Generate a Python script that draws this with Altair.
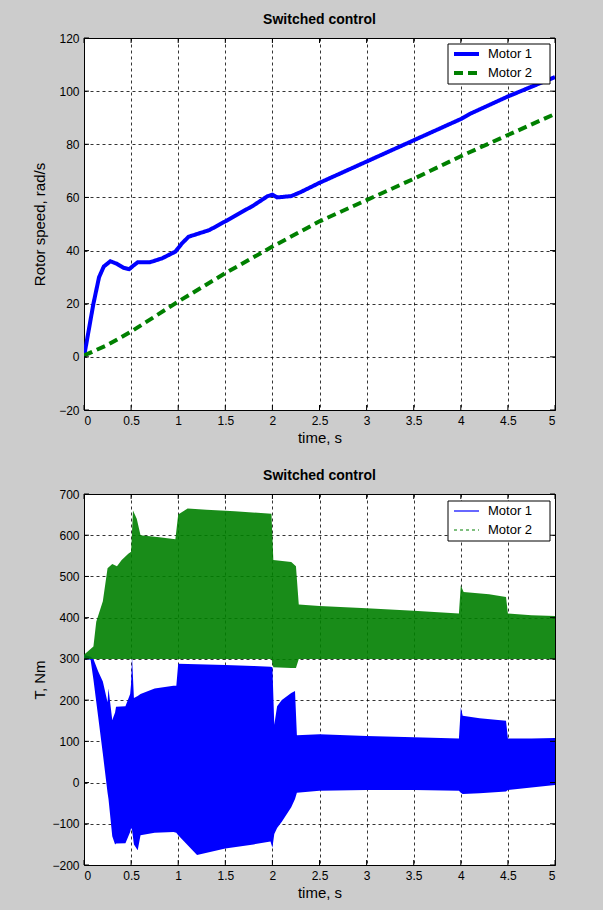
import altair as alt
import pandas as pd

FONT = "Liberation Sans"
BLUE = "#0000FF"
GREEN = "#008000"

# ---- Rotor speed, rad/s -------------------------------------------------
speed_t1 = [0, 0.05, 0.1, 0.16, 0.21, 0.28, 0.35, 0.42, 0.48, 0.53, 0.57, 0.7,
            0.83, 0.97, 1.04, 1.11, 1.33, 1.5, 1.8, 1.95, 2.0, 2.05, 2.2, 2.3,
            2.5, 3.0, 3.5, 4.0, 4.1, 4.5, 5.0]
speed_m1 = [0, 10, 20, 30, 34, 36, 35, 33.5, 33, 34.5, 35.6, 35.6,
            37.1, 39.6, 42.7, 45.2, 47.7, 51, 57, 60.5, 61, 60, 60.5, 62,
            65.5, 73.5, 81.5, 89.5, 91.5, 98, 105.3]
speed_t2 = [0, 0.25, 0.5, 1.0, 1.5, 2.0, 2.5, 3.0, 3.5, 4.0, 4.5, 5.0]
speed_m2 = [0.5, 4.5, 9.5, 20.8, 31.5, 41.5, 51, 59, 67, 75.5, 83.5, 91.4]

# ---- Torque envelopes, Nm (lower / upper bound of the ripple) ------------
tq_t1 = [0, 0.07, 0.1, 0.15, 0.2, 0.25, 0.26, 0.3, 0.33, 0.34, 0.44, 0.49,
         0.5, 0.51, 0.53, 0.57, 0.6, 0.75, 0.95, 0.98, 1.0, 1.2, 1.5, 1.8,
         1.98, 2.0, 2.02, 2.05, 2.1, 2.2, 2.24, 2.26, 2.5, 3.0, 3.5, 3.98,
         4.0, 4.02, 4.2, 4.48, 4.5, 4.75, 5.0]
tq_m1_lo = [300, 298, 250, 160, 70, -25, -40, -130, -150, -148, -147, -120,
            -110, -115, -150, -164, -128, -122, -120, -122, -128, -176, -160, -150,
            -143, -158, -125, -110, -95, -60, -40, -25, -20, -18, -18, -20,
            -25, -28, -26, -22, -18, -12, -6]
tq_m1_hi = [310, 305, 300, 270, 245, 195, 228, 152, 170, 184, 185, 215,
            240, 305, 205, 210, 215, 228, 235, 235, 288, 287, 285, 283,
            281, 280, 140, 185, 200, 217, 222, 115, 117, 113, 110, 107,
            182, 162, 156, 150, 107, 107, 108]

tq_t2 = [0, 0.1, 0.13, 0.2, 0.25, 0.3, 0.35, 0.4, 0.47, 0.5, 0.52, 0.56,
         0.6, 0.8, 0.97, 1.0, 1.1, 1.3, 1.6, 1.99, 2.01, 2.2, 2.25, 2.28,
         2.5, 3.0, 3.5, 3.98, 4.0, 4.03, 4.3, 4.48, 4.5, 4.75, 5.0]
tq_m2_lo = [300, 300, 300, 300, 300, 300, 300, 300, 300, 300, 300, 300,
            300, 300, 300, 300, 300, 300, 300, 300, 280, 278, 278, 300,
            300, 300, 300, 300, 300, 300, 300, 300, 300, 300, 300]
tq_m2_hi = [310, 330, 390, 440, 520, 530, 525, 540, 555, 560, 660, 640,
            600, 595, 590, 650, 665, 662, 658, 652, 540, 535, 525, 432,
            428, 423, 417, 410, 478, 462, 457, 450, 410, 406, 404]

time_ticks = [0, 0.5, 1, 1.5, 2, 2.5, 3, 3.5, 4, 4.5, 5]
speed_ticks = [-20, 0, 20, 40, 60, 80, 100, 120]
torque_ticks = [-200, -100, 0, 100, 200, 300, 400, 500, 600, 700]

W = 471
H1 = 372
H2 = 371

speed_df = pd.concat([
    pd.DataFrame({"t": speed_t1, "w": speed_m1, "motor": "Motor 1"}),
    pd.DataFrame({"t": speed_t2, "w": speed_m2, "motor": "Motor 2"}),
])
tq1_df = pd.DataFrame({"t": tq_t1, "lo": tq_m1_lo, "hi": tq_m1_hi})
tq2_df = pd.DataFrame({"t": tq_t2, "lo": tq_m2_lo, "hi": tq_m2_hi})
one = pd.DataFrame({"k": [0]})

x_scale = alt.Scale(domain=[0, 5], nice=False, zero=False)
s_scale = alt.Scale(domain=[-20, 120], nice=False, zero=False)
t_scale = alt.Scale(domain=[-200, 700], nice=False, zero=False)

X_AXIS = alt.Axis(values=time_ticks, format="~g", title="time, s",
                  labelPadding=5, titlePadding=4)
S_AXIS = alt.Axis(values=speed_ticks, title="Rotor speed, rad/s",
                  titleX=-45, titleBaseline="middle")
T_AXIS = alt.Axis(values=torque_ticks, title="T, Nm",
                  titleX=-45, titleBaseline="middle")


def X():
    return alt.X("t:Q", scale=x_scale, axis=X_AXIS)


def frame_ticks(yfield, yvalues, yscale, yaxis, height):
    """Short inward tick marks on all four edges of a plot frame."""
    xdf = pd.DataFrame({"t": time_ticks})
    ydf = pd.DataFrame({yfield: yvalues})
    ypos = alt.Y(f"{yfield}:Q", scale=yscale, axis=yaxis)
    top = alt.Chart(xdf).mark_rule(color="black").encode(
        x=X(), y=alt.value(0), y2=alt.value(5))
    bot = alt.Chart(xdf).mark_rule(color="black").encode(
        x=X(), y=alt.value(height), y2=alt.value(height - 5))
    left = alt.Chart(ydf).mark_rule(color="black").encode(
        y=ypos, x=alt.value(0), x2=alt.value(5))
    right = alt.Chart(ydf).mark_rule(color="black").encode(
        y=ypos, x=alt.value(W - 5), x2=alt.value(W))
    return top + bot + left + right


def legend(y0, thick):
    box = alt.Chart(one).mark_rect(fill="white", stroke="black", strokeWidth=1).encode(
        x=alt.value(364), x2=alt.value(466), y=alt.value(y0), y2=alt.value(y0 + 40))
    sw = 4 if thick else 1.2
    dash = [9, 5] if thick else [3, 3]
    l1 = alt.Chart(one).mark_rule(color=BLUE, strokeWidth=sw).encode(
        x=alt.value(370), x2=alt.value(395), y=alt.value(y0 + 10))
    l2 = alt.Chart(one).mark_rule(color=GREEN, strokeWidth=sw, strokeDash=dash).encode(
        x=alt.value(370), x2=alt.value(395), y=alt.value(y0 + 29))
    t1 = alt.Chart(one).mark_text(align="left", baseline="middle", font=FONT,
                                  fontSize=13, color="black").encode(
        x=alt.value(404), y=alt.value(y0 + 10), text=alt.value("Motor 1"))
    t2 = alt.Chart(one).mark_text(align="left", baseline="middle", font=FONT,
                                  fontSize=13, color="black").encode(
        x=alt.value(404), y=alt.value(y0 + 29), text=alt.value("Motor 2"))
    return box + l1 + l2 + t1 + t2


# ---- top panel: rotor speed ---------------------------------------------
speed_lines = alt.Chart(speed_df).mark_line(strokeWidth=4, clip=True).encode(
    x=X(),
    y=alt.Y("w:Q", scale=s_scale, axis=S_AXIS),
    color=alt.Color("motor:N", scale=alt.Scale(domain=["Motor 1", "Motor 2"],
                                              range=[BLUE, GREEN]), legend=None),
    strokeDash=alt.StrokeDash("motor:N", scale=alt.Scale(domain=["Motor 1", "Motor 2"],
                                                         range=[[1, 0], [9, 5]]), legend=None),
)

top = alt.layer(
    speed_lines,
    frame_ticks("w", speed_ticks, s_scale, S_AXIS, H1),
    legend(6, True),
).properties(width=W, height=H1,
             title=alt.TitleParams("Switched control", offset=5))

# ---- bottom panel: electromagnetic torque -------------------------------
m1_band = alt.Chart(tq1_df).mark_area(color=BLUE, opacity=1, clip=True).encode(
    x=X(),
    y=alt.Y("lo:Q", scale=t_scale, axis=T_AXIS),
    y2="hi:Q",
)
m2_band = alt.Chart(tq2_df).mark_area(color=GREEN, opacity=0.9, clip=True).encode(
    x=X(),
    y=alt.Y("lo:Q", scale=t_scale, axis=T_AXIS),
    y2="hi:Q",
)

bottom = alt.layer(
    m1_band,
    m2_band,
    frame_ticks("lo", torque_ticks, t_scale, T_AXIS, H2),
    legend(7, False),
).properties(width=W, height=H2,
             title=alt.TitleParams("Switched control", offset=5))

chart = alt.vconcat(top, bottom, spacing=22).properties(
    background="#CCCCCC",
    padding={"left": 31, "top": 12, "right": 47, "bottom": 13},
).configure_view(
    fill="white", stroke="black", strokeWidth=1,
).configure_axis(
    labelFont=FONT, labelFontSize=12, labelColor="black", labelPadding=5,
    titleFont=FONT, titleFontSize=15, titleFontWeight="normal", titleColor="black",
    grid=True, gridColor="black", gridDash=[3, 3], gridOpacity=1, gridWidth=0.8,
    ticks=False, tickSize=0, domain=False,
).configure_title(
    font=FONT, fontSize=14, fontWeight="bold", color="black", anchor="middle",
)

chart.save("out.html", embed_options={"renderer": "svg", "actions": False})
